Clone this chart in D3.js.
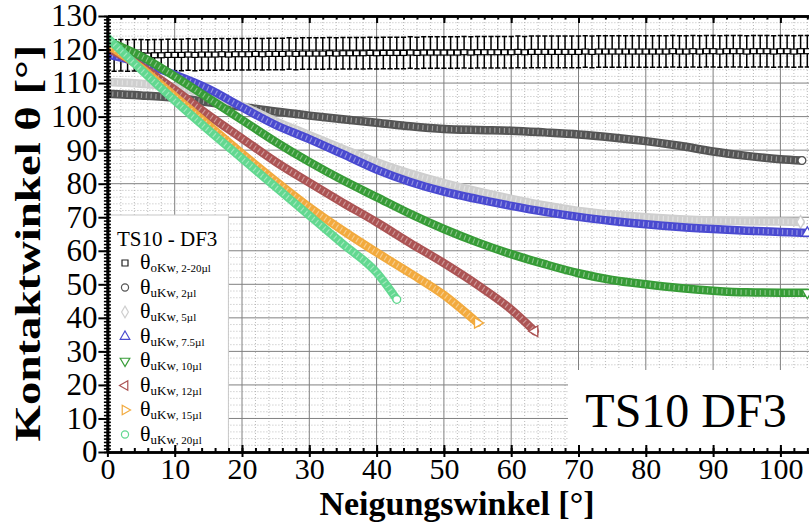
<!DOCTYPE html>
<html>
<head>
<meta charset="utf-8">
<script src="https://cdn.jsdelivr.net/npm/d3@7"></script>
<style>
body { margin: 0; background: #fff; }
svg { display: block; }
</style>
</head>
<body>
<script>
// tick labels
var xTicks = [0, 10, 20, 30, 40, 50, 60, 70, 80, 90, 100];
var yTicks = [0, 10, 20, 30, 40, 50, 60, 70, 80, 90, 100, 110, 120, 130];

// advancing angle, 2-20 µl (squares with error bars)
var oKwAngle = [0,1,2,3,4,5,6,7,8,9,10,11,12,13,14,15,16,17,18,19,20,21,22,23,24,25,26,27,28,29,30,31,32,33,34,35,36,37,38,39,40,41,42,43,44,45,46,47,48,49,50,51,52,53,54,55,56,57,58,59,60,61,62,63,64,65,66,67,68,69,70,71,72,73,74,75,76,77,78,79,80,81,82,83,84,85,86,87,88,89,90,91,92,93,94,95,96,97,98,99,100,101,102,103,104];
var oKwValue = [118.2,118.2,118.3,118.2,118.3,118.3,118.2,118.3,118.3,118.4,
                118.4,118.4,118.5,118.4,118.5,118.5,118.5,118.6,118.5,118.6,
                118.6,118.6,118.7,118.6,118.7,118.7,118.7,118.8,118.7,118.8,
                118.8,118.8,118.8,118.9,118.8,118.9,118.9,118.9,118.9,119.0,
                118.9,119.0,119.0,119.0,119.0,119.1,119.0,119.1,119.1,119.1,
                119.1,119.1,119.1,119.2,119.1,119.2,119.2,119.2,119.2,119.2,
                119.2,119.3,119.2,119.3,119.3,119.3,119.3,119.3,119.3,119.3,
                119.3,119.4,119.3,119.4,119.4,119.4,119.4,119.4,119.4,119.4,
                119.4,119.4,119.4,119.4,119.5,119.4,119.4,119.5,119.4,119.5,
                119.5,119.4,119.5,119.5,119.5,119.4,119.5,119.5,119.5,119.4,
                119.5,119.5,119.4,119.5,119.5];
var oKwErr = 4.7;

// receding angle per drop volume
var ang2  = [0,5,10,15,20,25,30,35,40,45,50,55,60,65,70,75,80,85,90,95,100,103.2];
var val2  = [106.8,106.3,105.6,104.3,102.9,101.5,100.3,99.2,98.2,97.1,96.3,96.0,95.8,95.3,94.7,93.8,92.7,91.3,89.6,88.3,87.3,86.9];

var ang5  = [0,5,10,15,20,25,30,35,40,45,50,55,60,65,70,75,80,85,90,95,100,103];
var val5  = [110.3,109.8,108.8,106.5,103.2,98.6,94.5,90.4,86.4,83.0,80.2,77.7,75.5,73.5,71.9,70.8,70.0,69.4,69.0,68.8,68.7,68.6];

var ang75 = [0,5,10,15,20,25,30,35,40,45,50,55,60,65,70,75,80,85,90,95,100,104];
var val75 = [118.5,116.0,112.5,108.3,102.8,97.5,93.3,88.8,84.2,80.5,77.6,75.4,73.4,71.6,70.1,68.9,67.9,67.1,66.5,66.0,65.6,65.3];

var ang10 = [0,5,10,15,20,25,30,35,40,45,50,55,60,65,70,75,80,85,90,95,100,104];
var val10 = [122.5,118.0,112.0,105.5,99.0,92.5,86.5,81.0,76.0,71.0,66.5,62.5,59.0,56.0,53.3,51.3,50.0,48.9,48.1,47.6,47.5,47.5];

var ang12 = [0,5,10,15,20,25,30,35,40,45,50,55,60,63.5];
var val12 = [120.5,115.0,108.0,100.5,93.5,86.5,80.3,74.3,68.5,62.3,56.3,49.8,42.5,36.0];

var ang15 = [0,5,10,15,20,25,30,35,40,45,50,55];
var val15 = [121.5,114.5,106.0,97.5,89.0,80.8,73.0,66.0,59.5,53.3,46.8,38.5];

var ang20 = [0,5,10,15,20,25,30,35,40,43];
var val20 = [123.5,114.0,104.8,96.0,87.5,79.0,70.5,62.0,53.5,45.5];

// legend
var legendTitle = "TS10 - DF3";
var legendSub = ["oKw", "uKw", "uKw", "uKw", "uKw", "uKw", "uKw", "uKw"];
var legendVol = [", 2-20\u00b5l", ", 2\u00b5l", ", 5\u00b5l", ", 7.5\u00b5l", ", 10\u00b5l", ", 12\u00b5l", ", 15\u00b5l", ", 20\u00b5l"];

var W = 809, H = 523;
var x = d3.scaleLinear().domain([0, 110]).range([107.4, 107.4 + 110 * 6.73]);
var y = d3.scaleLinear().domain([0, 130]).range([452, 16]);

var svg = d3.select("body").append("svg")
    .attr("width", W)
    .attr("height", H)
    .style("font-family", "'Liberation Serif', 'Times New Roman', serif");

svg.append("defs").append("clipPath").attr("id", "plot")
    .append("rect")
    .attr("x", x(0)).attr("y", y(130))
    .attr("width", W - x(0)).attr("height", y(0) - y(130));

// grid
var grid = svg.append("g");
grid.append("g").selectAll("line").data(d3.range(0, 111, 2).filter(function(d) { return d % 10 != 0; }))
    .enter().append("line")
    .attr("x1", function(d) { return x(d); }).attr("x2", function(d) { return x(d); })
    .attr("y1", y(0)).attr("y2", y(130))
    .attr("stroke", "#aaa").attr("stroke-width", 0.8).attr("stroke-dasharray", "1,2");
grid.append("g").selectAll("line").data(d3.range(0, 131, 2).filter(function(d) { return d % 10 != 0; }))
    .enter().append("line")
    .attr("x1", x(0)).attr("x2", W)
    .attr("y1", function(d) { return y(d); }).attr("y2", function(d) { return y(d); })
    .attr("stroke", "#aaa").attr("stroke-width", 0.8).attr("stroke-dasharray", "1,2");
grid.append("g").selectAll("line").data(xTicks.slice(1))
    .enter().append("line")
    .attr("x1", function(d) { return x(d); }).attr("x2", function(d) { return x(d); })
    .attr("y1", y(0)).attr("y2", y(130))
    .attr("stroke", "#808080").attr("stroke-width", 1);
grid.append("g").selectAll("line").data(yTicks.slice(1))
    .enter().append("line")
    .attr("x1", x(0)).attr("x2", W)
    .attr("y1", function(d) { return y(d); }).attr("y2", function(d) { return y(d); })
    .attr("stroke", "#808080").attr("stroke-width", 1);

var plot = svg.append("g").attr("clip-path", "url(#plot)");

// advancing angle: error bars + squares
var oKw = oKwAngle.map(function(a, i) { return {a: a, v: oKwValue[i]}; });
var eb = plot.append("g").attr("stroke", "#000").attr("stroke-width", 1.5);
eb.selectAll(".bar").data(oKw).enter().append("line")
    .attr("x1", function(d) { return x(d.a); }).attr("x2", function(d) { return x(d.a); })
    .attr("y1", function(d) { return y(d.v + oKwErr); }).attr("y2", function(d) { return y(d.v - oKwErr); });
eb.selectAll(".capT").data(oKw).enter().append("line")
    .attr("x1", function(d) { return x(d.a) - 2.6; }).attr("x2", function(d) { return x(d.a) + 2.6; })
    .attr("y1", function(d) { return y(d.v + oKwErr); }).attr("y2", function(d) { return y(d.v + oKwErr); });
eb.selectAll(".capB").data(oKw).enter().append("line")
    .attr("x1", function(d) { return x(d.a) - 2.6; }).attr("x2", function(d) { return x(d.a) + 2.6; })
    .attr("y1", function(d) { return y(d.v - oKwErr); }).attr("y2", function(d) { return y(d.v - oKwErr); });
plot.append("g").selectAll("rect").data(oKw).enter().append("rect")
    .attr("x", function(d) { return x(d.a) - 3; })
    .attr("y", function(d) { return y(d.v) - 2.5; })
    .attr("width", 6).attr("height", 5)
    .attr("fill", "#fff").attr("stroke", "#000").attr("stroke-width", 1.2);

// receding angle bands
var series = [
    {ang: ang2,  val: val2,  color: "#555555", sym: d3.symbolCircle,   rot: 0},
    {ang: ang5,  val: val5,  color: "#cfcfcf", sym: d3.symbolDiamond,  rot: 0},
    {ang: ang75, val: val75, color: "#4a4ad0", sym: d3.symbolTriangle, rot: 0},
    {ang: ang10, val: val10, color: "#379c37", sym: d3.symbolTriangle, rot: 180},
    {ang: ang12, val: val12, color: "#ac5454", sym: d3.symbolTriangle, rot: -90},
    {ang: ang15, val: val15, color: "#f2aa3e", sym: d3.symbolTriangle, rot: 90},
    {ang: ang20, val: val20, color: "#62d890", sym: d3.symbolCircle,   rot: 0}
];

var line = d3.line()
    .curve(d3.curveMonotoneX)
    .x(function(d) { return x(d.a); })
    .y(function(d) { return y(d.v); });

series.forEach(function(s) {
    var pts = s.ang.map(function(a, i) { return {a: a, v: s.val[i]}; });
    plot.append("path").datum(pts)
        .attr("d", line)
        .attr("fill", "none")
        .attr("stroke", s.color)
        .attr("stroke-width", 8.5)
        .attr("stroke-linecap", "round");
    plot.append("path").datum(pts)
        .attr("d", line)
        .attr("fill", "none")
        .attr("stroke", "#fff")
        .attr("stroke-opacity", 0.4)
        .attr("stroke-width", 5)
        .attr("stroke-dasharray", "1.2,3.6");
    var last = pts[pts.length - 1];
    plot.append("path")
        .attr("d", d3.symbol().type(s.sym).size(48)())
        .attr("transform", "translate(" + x(last.a) + "," + y(last.v) + ") rotate(" + s.rot + ")")
        .attr("fill", "#fff")
        .attr("stroke", s.color)
        .attr("stroke-width", 1.3);
});

// legend
var legend = svg.append("g");
legend.append("rect")
    .attr("x", x(0)).attr("y", 215)
    .attr("width", 121).attr("height", y(0) - 215)
    .attr("fill", "#fff").attr("stroke", "#c8c8c8");
legend.append("text")
    .attr("x", 117).attr("y", 246)
    .attr("font-size", 21)
    .text(legendTitle);
var legSyms = [{color: "#222", sym: d3.symbolSquare, rot: 0}].concat(series);
legSyms.forEach(function(s, i) {
    var cy = 263 + i * 24.5;
    legend.append("path")
        .attr("d", d3.symbol().type(s.sym).size(s.sym === d3.symbolSquare ? 36 : 40)())
        .attr("transform", "translate(125," + cy + ") rotate(" + s.rot + ")")
        .attr("fill", "none")
        .attr("stroke", i == 0 ? "#222" : s.color)
        .attr("stroke-width", 1.2);
    var t = legend.append("text").attr("x", 140).attr("y", cy + 6);
    t.append("tspan").attr("font-size", 22).text("\u03b8");
    t.append("tspan").attr("font-size", 13).attr("dy", 3).text(legendSub[i]);
    t.append("tspan").attr("font-size", 11).text(legendVol[i]);
});

// sample label box
svg.append("rect")
    .attr("x", 568).attr("y", 370)
    .attr("width", W - 568).attr("height", y(0) - 370)
    .attr("fill", "#fff");
svg.append("text")
    .attr("x", 686).attr("y", 427)
    .attr("text-anchor", "middle")
    .attr("font-size", 48)
    .text("TS10 DF3");

// axes
var axisStyle = function(g) {
    g.select(".domain").attr("stroke", "#000").attr("stroke-width", 2.5);
    g.selectAll(".tick line").attr("stroke", "#000").attr("stroke-width", 2);
    g.selectAll("text").attr("font-family", "'Liberation Serif', serif").attr("fill", "#000");
};

// bottom
svg.append("g").attr("transform", "translate(0," + y(0) + ")")
    .call(d3.axisBottom(x).tickValues(d3.range(0, 111, 2)).tickSizeInner(-4).tickSizeOuter(0).tickFormat(""))
    .call(axisStyle);
svg.append("g").attr("transform", "translate(0," + y(0) + ")")
    .call(d3.axisBottom(x).tickValues(xTicks).tickSizeInner(5).tickSizeOuter(0).tickPadding(1))
    .call(axisStyle)
    .call(function(g) { g.selectAll("text").attr("font-size", 30); g.select(".domain").remove(); });
svg.append("g").attr("transform", "translate(0," + y(0) + ")")
    .call(d3.axisTop(x).tickValues(xTicks).tickSizeInner(7).tickSizeOuter(0).tickFormat(""))
    .call(axisStyle);

// top
svg.append("g").attr("transform", "translate(0," + y(130) + ")")
    .call(d3.axisBottom(x).tickValues(d3.range(0, 111, 2)).tickSizeInner(3.5).tickSizeOuter(0).tickFormat(""))
    .call(axisStyle);
svg.append("g").attr("transform", "translate(0," + y(130) + ")")
    .call(d3.axisBottom(x).tickValues(xTicks).tickSizeInner(7).tickSizeOuter(0).tickFormat(""))
    .call(axisStyle);

// left
svg.append("g").attr("transform", "translate(" + x(0) + ",0)")
    .call(d3.axisLeft(y).tickValues(d3.range(0, 131, 1)).tickSizeInner(-3.5).tickSizeOuter(0).tickFormat(""))
    .call(axisStyle)
    .call(function(g) { g.selectAll(".tick line").attr("stroke-width", 1.6); });
svg.append("g").attr("transform", "translate(" + x(0) + ",0)")
    .call(d3.axisLeft(y).tickValues(d3.range(0, 131, 1)).tickSizeInner(3.5).tickSizeOuter(0).tickFormat(""))
    .call(axisStyle)
    .call(function(g) { g.selectAll(".tick line").attr("stroke-width", 1.6); });
svg.append("g").attr("transform", "translate(" + x(0) + ",0)")
    .call(d3.axisLeft(y).tickValues(yTicks).tickSizeInner(9).tickSizeOuter(0).tickPadding(1))
    .call(axisStyle)
    .call(function(g) { g.selectAll("text").attr("font-size", 31); });

// axis titles
svg.append("text")
    .attr("x", 457).attr("y", 515)
    .attr("text-anchor", "middle")
    .attr("font-size", 34).attr("font-weight", "bold")
    .text("Neigungswinkel [\u00b0]");
svg.append("text")
    .attr("transform", "translate(40,243) rotate(-90) scale(1.3,1)")
    .attr("text-anchor", "middle")
    .attr("font-size", 36).attr("font-weight", "bold")
    .text("Kontaktwinkel \u03b8 [\u00b0]");
</script>
</body>
</html>
